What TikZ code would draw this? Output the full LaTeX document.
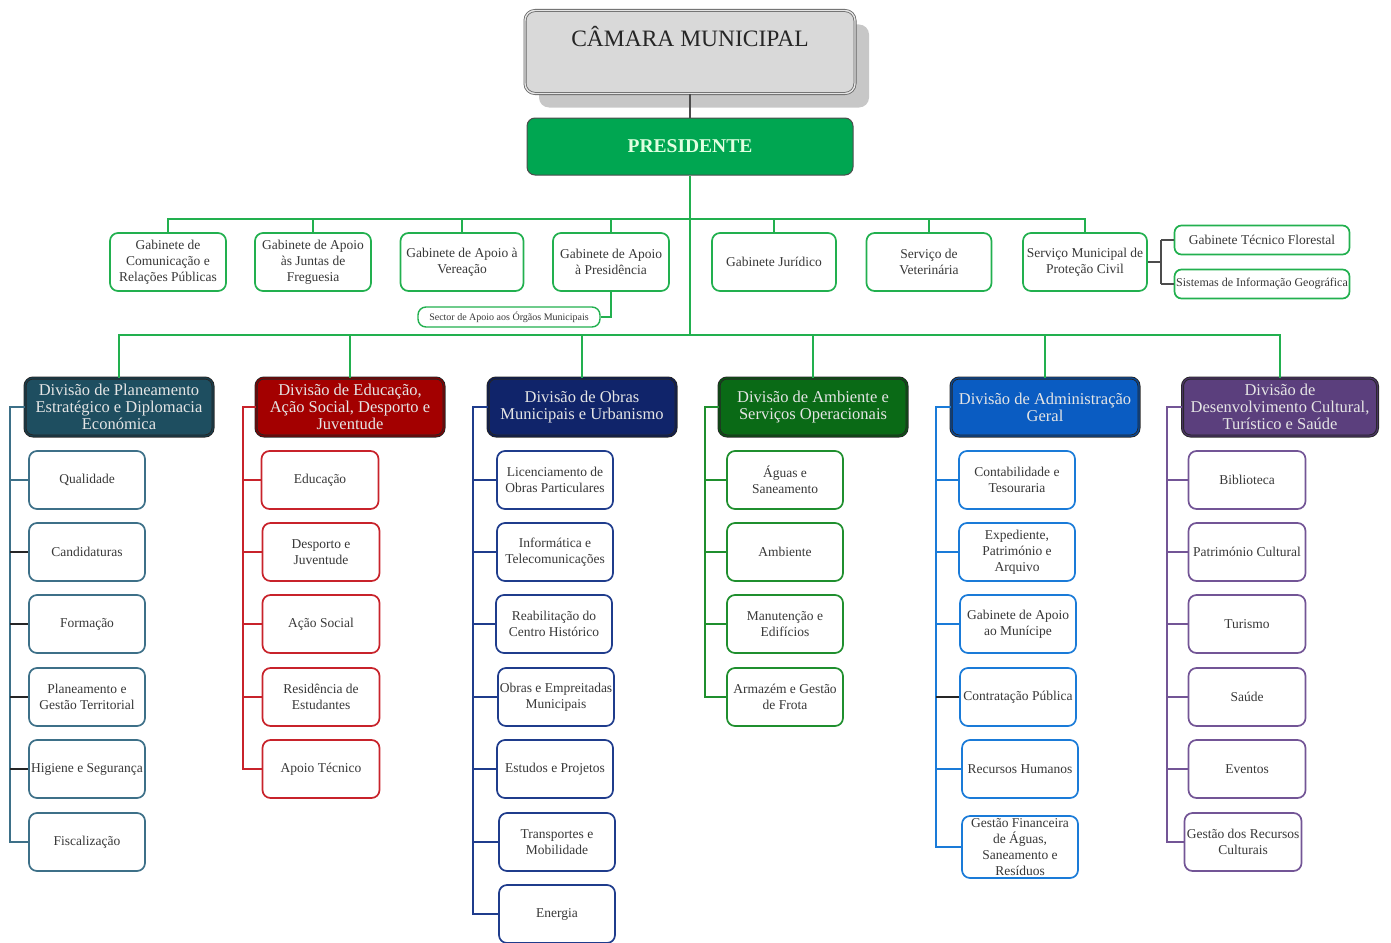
\documentclass[tikz,border=0pt]{standalone}
\usepackage{fontspec}
\setmainfont{Liberation Serif}
\usetikzlibrary{shadows}
\definecolor{gbord}{HTML}{22B04F}
\definecolor{presfill}{HTML}{00A651}
\definecolor{hA}{HTML}{1E4E60}\definecolor{bA}{HTML}{3D7088}
\definecolor{hB}{HTML}{A30000}\definecolor{bB}{HTML}{C8232B}
\definecolor{hC}{HTML}{10246A}\definecolor{bC}{HTML}{1F3C8C}
\definecolor{hD}{HTML}{0A6A16}\definecolor{bD}{HTML}{1F8F2E}
\definecolor{hE}{HTML}{0A5CC2}\definecolor{bE}{HTML}{1A7BD8}
\definecolor{hF}{HTML}{5B3F7D}\definecolor{bF}{HTML}{735596}
\begin{document}
\begin{tikzpicture}[x=1pt,y=-1pt,
  every node/.style={inner sep=1pt, align=center},
  sub/.style={draw=#1, fill=white, rounded corners=8pt, line width=1.7pt,
    minimum width=116pt, minimum height=58pt, text=black!78,
    font=\fontsize{13.5}{16}\selectfont},
  head/.style={draw=black!85, double=#1!80!black, double distance=1.2pt, line width=0.9pt,
    fill=#1, rounded corners=8pt, minimum width=188pt, minimum height=58pt,
    text=white!90!black, font=\fontsize{16.5}{17}\selectfont},
  conn/.style={draw=#1, line width=1.8pt},
]
\useasboundingbox (0,0) rectangle (1391,942);
% ---- top
\node[draw=black!60, line width=0.8pt, double=white!90!black, double distance=1.4pt,
  fill=black!15, rounded corners=10pt, minimum width=330pt, minimum height=83pt,
  drop shadow={shadow xshift=14pt, shadow yshift=-14pt, fill=black!22, opacity=1}]
  (cm) at (690,52) {};
\node[font=\fontsize{23.5}{26}\selectfont, text=black!85] (cmtext) at (690,37) {CÂMARA MUNICIPAL};
\node[draw=black!70, line width=1pt, fill=presfill, rounded corners=8pt,
  minimum width=326pt, minimum height=57pt, text=white!88!green,
  font=\fontsize{19.5}{22}\bfseries] (pres) at (690,146.5) {PRESIDENTE};
\draw[black!70, line width=1.4pt] (cm.south) -- (pres.north);
% ---- gabinetes
\node[sub=gbord, minimum width=116pt] (g1) at (168,262) {Gabinete de\\Comunicação e\\Relações Públicas};
\node[sub=gbord, minimum width=116pt] (g2) at (313,262) {Gabinete de Apoio\\às Juntas de\\Freguesia};
\node[sub=gbord, minimum width=123pt] (g3) at (462,262) {Gabinete de Apoio à\\Vereação};
\node[sub=gbord, minimum width=116pt] (g4) at (611,262) {Gabinete de Apoio\\à Presidência};
\node[sub=gbord, minimum width=124pt] (g5) at (774,262) {Gabinete Jurídico};
\node[sub=gbord, minimum width=125pt] (g6) at (929,262) {Serviço de\\Veterinária};
\node[sub=gbord, minimum width=124pt] (g7) at (1085,262) {Serviço Municipal de\\Proteção Civil};
\node[sub=gbord, minimum width=175pt, minimum height=29pt, rounded corners=7pt] (gtf) at (1262,240) {Gabinete Técnico Florestal};
\node[sub=gbord, minimum width=175pt, minimum height=29pt, rounded corners=7pt, inner sep=0pt,
  font=\fontsize{12}{14}\selectfont] (sig) at (1262,284) {Sistemas de Informação Geográfica};
\node[sub=gbord, minimum width=182pt, minimum height=20pt, rounded corners=8pt, line width=1.4pt,
  font=\fontsize{10}{12}\selectfont] (sector) at (509,317) {Sector de Apoio aos Órgãos Municipais};
\coordinate (gbar) at (690,219);
\coordinate (dbar) at (690,335);
\draw[conn=gbord] (pres.south) -- (dbar);
\draw[conn=gbord] (g1.north) -- (g1.north |- gbar) -- (g7.north |- gbar) -- (g7.north);
\foreach \g in {g2,g3,g4,g5,g6} \draw[conn=gbord] (\g.north) -- (\g.north |- gbar);
\draw[conn=gbord] (g4.south) |- (sector.east);
\coordinate (sm) at (1161,262);
\draw[conn=black!70, line width=1.4pt] (g7.east) -- (sm);
\draw[conn=black!70, line width=1.4pt] (sm |- gtf.west) -- (sm |- sig.west);
\draw[conn=black!70, line width=1.4pt] (sm |- gtf.west) -- (gtf.west);
\draw[conn=black!70, line width=1.4pt] (sm |- sig.west) -- (sig.west);
% ---- division headers
\node[head=hA] (d1) at (119,407) {Divisão de Planeamento\\Estratégico e Diplomacia\\Económica};
\node[head=hB] (d2) at (350,407) {Divisão de Educação,\\Ação Social, Desporto e\\Juventude};
\node[head=hC] (d3) at (582,407) {Divisão de Obras\\Municipais e Urbanismo};
\node[head=hD] (d4) at (813,407) {Divisão de Ambiente e\\Serviços Operacionais};
\node[head=hE] (d5) at (1045,407) {Divisão de Administração\\Geral};
\node[head=hF, minimum width=195pt] (d6) at (1280,407) {Divisão de\\Desenvolvimento Cultural,\\Turístico e Saúde};
\draw[conn=gbord] (d1.north) -- (d1.north |- dbar) -- (d6.north |- dbar) -- (d6.north);
\foreach \d in {d2,d3,d4,d5} \draw[conn=gbord] (\d.north) -- (\d.north |- dbar);
% ---- division 1
\node[sub=bA] (a1) at (87,480) {Qualidade};
\node[sub=bA] (a2) at (87,552) {Candidaturas};
\node[sub=bA] (a3) at (87,624) {Formação};
\node[sub=bA] (a4) at (87,697) {Planeamento e\\Gestão Territorial};
\node[sub=bA] (a5) at (87,769) {Higiene e Segurança};
\node[sub=bA] (a6) at (87,842) {Fiscalização};
\coordinate (t1) at (10,407);
\draw[conn=bA] (d1.west) -- (t1) |- (a6.west);
\draw[conn=bA] (t1 |- a1.west) -- (a1.west);
\foreach \s in {a2,a3,a4,a5} \draw[conn=black!85] (t1 |- \s.west) -- (\s.west);
% ---- division 2
\node[sub=bB, minimum width=117pt] (b1) at (320,480) {Educação};
\node[sub=bB, minimum width=117pt] (b2) at (321,552) {Desporto e\\Juventude};
\node[sub=bB, minimum width=117pt] (b3) at (321,624) {Ação Social};
\node[sub=bB, minimum width=117pt] (b4) at (321,697) {Residência de\\Estudantes};
\node[sub=bB, minimum width=117pt] (b5) at (321,769) {Apoio Técnico};
\coordinate (t2) at (243,407);
\draw[conn=bB] (d2.west) -- (t2) |- (b5.west);
\foreach \s in {b1,b2,b3,b4} \draw[conn=bB] (t2 |- \s.west) -- (\s.west);
% ---- division 3
\node[sub=bC] (c1) at (555,480) {Licenciamento de\\Obras Particulares};
\node[sub=bC] (c2) at (555,552) {Informática e\\Telecomunicações};
\node[sub=bC] (c3) at (554,624) {Reabilitação do\\Centro Histórico};
\node[sub=bC] (c4) at (556,697) {Obras e Empreitadas\\Municipais};
\node[sub=bC] (c5) at (555,769) {Estudos e Projetos};
\node[sub=bC] (c6) at (557,842) {Transportes e\\Mobilidade};
\node[sub=bC] (c7) at (557,914) {Energia};
\coordinate (t3) at (473,407);
\draw[conn=bC] (d3.west) -- (t3) |- (c7.west);
\foreach \s in {c1,c2,c3,c4,c5,c6} \draw[conn=bC] (t3 |- \s.west) -- (\s.west);
% ---- division 4
\node[sub=bD] (e1) at (785,480) {Águas e\\Saneamento};
\node[sub=bD] (e2) at (785,552) {Ambiente};
\node[sub=bD] (e3) at (785,624) {Manutenção e\\Edifícios};
\node[sub=bD] (e4) at (785,697) {Armazém e Gestão\\de Frota};
\coordinate (t4) at (705,407);
\draw[conn=bD] (d4.west) -- (t4) |- (e4.west);
\foreach \s in {e1,e2,e3} \draw[conn=bD] (t4 |- \s.west) -- (\s.west);
% ---- division 5
\node[sub=bE] (f1) at (1017,480) {Contabilidade e\\Tesouraria};
\node[sub=bE] (f2) at (1017,552) {Expediente,\\Património e\\Arquivo};
\node[sub=bE] (f3) at (1018,624) {Gabinete de Apoio\\ao Munícipe};
\node[sub=bE] (f4) at (1018,697) {Contratação Pública};
\node[sub=bE] (f5) at (1020,769) {Recursos Humanos};
\node[sub=bE, minimum height=62pt] (f6) at (1020,847) {Gestão Financeira\\de Águas,\\Saneamento e\\Resíduos};
\coordinate (t5) at (936,407);
\draw[conn=bE] (d5.west) -- (t5) |- (f6.west);
\foreach \s in {f1,f2,f3,f5} \draw[conn=bE] (t5 |- \s.west) -- (\s.west);
\draw[conn=black!85, line width=1.1pt] (t5 |- f4.west) -- (f4.west);
% ---- division 6
\node[sub=bF, minimum width=117pt] (h1) at (1247,480) {Biblioteca};
\node[sub=bF, minimum width=117pt] (h2) at (1247,552) {Património Cultural};
\node[sub=bF, minimum width=117pt] (h3) at (1247,624) {Turismo};
\node[sub=bF, minimum width=117pt] (h4) at (1247,697) {Saúde};
\node[sub=bF, minimum width=117pt] (h5) at (1247,769) {Eventos};
\node[sub=bF, minimum width=117pt] (h6) at (1243,842) {Gestão dos Recursos\\Culturais};
\coordinate (t6) at (1167,407);
\draw[conn=bF] (d6.west) -- (t6) |- (h6.west);
\foreach \s in {h1,h2,h3,h4,h5} \draw[conn=bF] (t6 |- \s.west) -- (\s.west);
\end{tikzpicture}
\end{document}
